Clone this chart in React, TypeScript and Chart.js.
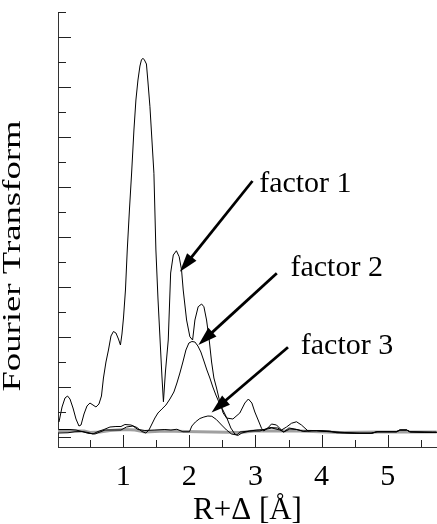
import { useEffect, useRef } from 'react';
import { Chart, registerables } from 'chart.js';

Chart.register(...registerables);

const SERIF = "'Liberation Serif', 'Times New Roman', Times, serif";

// Fourier-transform magnitude of each factor versus R+Δ (Å)
const factor1R = [0.03, 0.076, 0.121, 0.159, 0.196, 0.242, 0.287, 0.332, 0.363, 0.408, 0.453, 0.498, 0.544, 0.589, 0.634, 0.672, 0.702, 0.74, 0.778, 0.816, 0.853, 0.891, 0.929, 0.959, 0.982, 1.005, 1.035, 1.062, 1.095, 1.128, 1.163, 1.193, 1.224, 1.254, 1.276, 1.299, 1.322, 1.352, 1.375, 1.405, 1.435, 1.465, 1.495, 1.526, 1.556, 1.586, 1.609, 1.639, 1.682, 1.718, 1.758, 1.805, 1.847, 1.883, 1.908, 1.959, 2.009, 2.05, 2.085, 2.134, 2.186, 2.221, 2.261, 2.301, 2.337, 2.372, 2.412, 2.462, 2.512, 2.563, 2.659, 2.764, 2.84, 2.893, 2.946, 2.991, 3.041, 3.092, 3.127, 3.187, 3.243, 3.319, 3.394, 3.47, 3.545, 3.621, 3.696, 3.796, 3.923, 4.124, 4.23, 4.502, 4.758, 4.834, 5.136, 5.181, 5.287, 5.332, 5.559, 5.74];
const factor1FT = [0.6, 1.2, 1.56, 1.64, 1.52, 1.16, 0.72, 0.44, 0.48, 0.92, 1.24, 1.36, 1.28, 1.2, 1.32, 1.64, 2.36, 3.0, 3.48, 4.04, 4.22, 4.16, 3.92, 3.68, 4.12, 4.76, 5.88, 7.48, 9.08, 10.56, 12.28, 13.48, 14.28, 14.84, 15.08, 15.15, 15.08, 14.92, 14.2, 13.21, 11.88, 10.55, 7.48, 5.56, 4.0, 2.44, 1.41, 2.6, 3.88, 6.56, 7.28, 7.45, 7.21, 6.68, 5.88, 4.68, 4.01, 3.88, 4.68, 5.21, 5.32, 5.21, 4.68, 3.88, 3.0, 2.36, 1.96, 1.4, 0.96, 0.76, 0.72, 0.96, 1.36, 1.52, 1.36, 1.0, 0.68, 0.35, 0.24, 0.36, 0.52, 0.48, 0.28, 0.4, 0.55, 0.61, 0.48, 0.24, 0.26, 0.24, 0.17, 0.15, 0.15, 0.21, 0.21, 0.28, 0.28, 0.21, 0.18, 0.18];

const factor2R = [0.023, 0.196, 0.287, 0.378, 0.468, 0.544, 0.619, 0.71, 0.801, 0.891, 0.967, 1.027, 1.118, 1.208, 1.284, 1.344, 1.39, 1.435, 1.48, 1.526, 1.586, 1.647, 1.707, 1.767, 1.813, 1.858, 1.903, 1.949, 1.994, 2.039, 2.085, 2.13, 2.175, 2.221, 2.266, 2.311, 2.356, 2.402, 2.447, 2.508, 2.568, 2.628, 2.689, 2.734, 2.795, 2.915, 3.021, 3.142, 3.248, 3.369, 3.429, 3.52, 3.625, 3.731, 3.852, 4.124, 4.35, 4.577, 4.758, 4.849, 5.121, 5.196, 5.287, 5.347, 5.74];
const factor2FT = [0.3, 0.3, 0.28, 0.22, 0.18, 0.12, 0.22, 0.3, 0.4, 0.42, 0.42, 0.5, 0.48, 0.38, 0.22, 0.16, 0.28, 0.52, 0.76, 0.96, 1.12, 1.28, 1.52, 1.8, 2.16, 2.56, 3.0, 3.48, 3.76, 3.82, 3.8, 3.64, 3.4, 3.04, 2.68, 2.36, 2.0, 1.68, 1.4, 1.08, 0.76, 0.36, 0.12, 0.06, 0.16, 0.24, 0.28, 0.3, 0.36, 0.28, 0.2, 0.32, 0.3, 0.22, 0.26, 0.22, 0.18, 0.15, 0.15, 0.21, 0.21, 0.28, 0.28, 0.2, 0.18];

const factor3R = [0.023, 0.166, 0.272, 0.378, 0.468, 0.574, 0.65, 0.725, 0.876, 0.967, 1.05, 1.148, 1.224, 1.329, 1.48, 1.631, 1.722, 1.813, 1.903, 2.002, 2.039, 2.092, 2.16, 2.221, 2.281, 2.341, 2.409, 2.488, 2.563, 2.639, 2.719, 2.764, 2.915, 3.066, 3.218, 3.338, 3.429, 3.505, 3.595, 3.716, 3.927, 4.124, 4.32, 4.532, 4.743, 4.834, 5.136, 5.181, 5.287, 5.332, 5.68, 5.74];
const factor3FT = [0.16, 0.17, 0.21, 0.22, 0.15, 0.12, 0.2, 0.28, 0.28, 0.28, 0.4, 0.44, 0.3, 0.26, 0.28, 0.3, 0.28, 0.31, 0.21, 0.21, 0.44, 0.6, 0.74, 0.8, 0.84, 0.83, 0.7, 0.48, 0.28, 0.12, 0.08, 0.2, 0.24, 0.24, 0.38, 0.36, 0.2, 0.36, 0.32, 0.24, 0.25, 0.21, 0.17, 0.15, 0.15, 0.21, 0.21, 0.28, 0.28, 0.21, 0.2, 0.2];

// grey residual trace along the baseline
const residualR = [0.015, 0.408, 0.498, 0.65, 0.801, 1.027, 1.178, 1.329, 1.631, 1.934, 2.764, 2.991, 3.67, 4.275, 4.879, 5.74];
const residualFT = [0.24, 0.24, 0.18, 0.2, 0.26, 0.3, 0.28, 0.2, 0.24, 0.22, 0.18, 0.24, 0.24, 0.18, 0.2, 0.2];

const xLabelled = [1, 2, 3, 4, 5];

// call-out labels and arrows, in data coordinates (R, FT)
const calloutText = ['factor 1', 'factor 2', 'factor 3'];
const calloutTextR = [3.056, 3.53, 3.686];
const calloutTextFT = [9.81, 6.44, 3.32];
const arrowFromR = [2.955, 3.323, 3.492];
const arrowFromFT = [10.24, 6.55, 3.59];
const arrowToR = [1.858, 2.137, 2.337];
const arrowToFT = [6.61, 3.68, 0.98];

const X_MIN = 0.015;
const X_MAX = 5.745;
const Y_MIN = -0.4;
const Y_MAX = 17;

const pts = (xs: number[], ys: number[]) => xs.map((x, i) => ({ x, y: ys[i] }));

function drawArrow(ctx: CanvasRenderingContext2D, x1: number, y1: number, x2: number, y2: number) {
  const ang = Math.atan2(y2 - y1, x2 - x1);
  const headLen = 19;
  const headHalf = 6;
  const c = Math.cos(ang);
  const s = Math.sin(ang);
  const bx = x2 - headLen * c;
  const by = y2 - headLen * s;
  ctx.beginPath();
  ctx.moveTo(x1, y1);
  ctx.lineTo(bx + c, by + s);
  ctx.lineWidth = 2.8;
  ctx.strokeStyle = '#000';
  ctx.stroke();
  ctx.beginPath();
  ctx.moveTo(x2, y2);
  ctx.lineTo(bx + headHalf * s, by - headHalf * c);
  ctx.lineTo(bx - headHalf * s, by + headHalf * c);
  ctx.closePath();
  ctx.fillStyle = '#000';
  ctx.fill();
}

const decorPlugin = {
  id: 'ftDecor',
  afterDatasetsDraw(chart: any) {
    const { ctx, chartArea, scales } = chart;
    const xs = scales.x;
    const ys = scales.y;
    ctx.save();
    ctx.strokeStyle = '#222';
    ctx.lineWidth = 1;
    // inward tick marks on the R axis
    for (let v = 0.5; v < X_MAX; v += 0.5) {
      const major = Math.abs(v - Math.round(v)) < 1e-6;
      const px = Math.round(xs.getPixelForValue(v)) + 0.5;
      const len = major ? 12 : 7;
      ctx.beginPath();
      ctx.moveTo(px, chartArea.bottom);
      ctx.lineTo(px, chartArea.bottom - len);
      ctx.stroke();
    }
    // inward tick marks on the FT axis
    for (let v = 0; v <= Y_MAX; v += 1) {
      const major = v % 2 === 0;
      const py = Math.round(ys.getPixelForValue(v)) + 0.5;
      const len = major ? 13 : 8;
      ctx.beginPath();
      ctx.moveTo(chartArea.left, py);
      ctx.lineTo(chartArea.left + len, py);
      ctx.stroke();
    }
    // call-outs
    ctx.font = `30px ${SERIF}`;
    ctx.textAlign = 'left';
    ctx.textBaseline = 'alphabetic';
    ctx.fillStyle = '#000';
    calloutText.forEach((t, i) => {
      ctx.fillText(t, xs.getPixelForValue(calloutTextR[i]), ys.getPixelForValue(calloutTextFT[i]));
      drawArrow(
        ctx,
        xs.getPixelForValue(arrowFromR[i]),
        ys.getPixelForValue(arrowFromFT[i]),
        xs.getPixelForValue(arrowToR[i]),
        ys.getPixelForValue(arrowToFT[i])
      );
    });
    // vertical axis title, drawn stretched along its length
    ctx.font = `24.5px ${SERIF}`;
    ctx.textAlign = 'center';
    ctx.translate(chartArea.left - 38, 256);
    ctx.rotate(-Math.PI / 2);
    ctx.scale(1.5, 1);
    ctx.fillText('Fourier Transform', 0, 0);
    ctx.restore();
  },
};

export default function App() {
  const canvasRef = useRef<HTMLCanvasElement | null>(null);

  useEffect(() => {
    const canvas = canvasRef.current;
    if (!canvas) return;
    const line = (label: string, data: { x: number; y: number }[], color: string, width: number) => ({
      label,
      data,
      borderColor: color,
      backgroundColor: color,
      borderWidth: width,
      pointRadius: 0,
      tension: 0,
      fill: false,
    });
    const chart = new Chart(canvas, {
      type: 'line',
      data: {
        datasets: [
          line('factor 1', pts(factor1R, factor1FT), '#000', 1),
          line('factor 2', pts(factor2R, factor2FT), '#000', 1),
          line('factor 3', pts(factor3R, factor3FT), '#000', 1),
          line('residual', pts(residualR, residualFT), '#a0a0a0', 3),
        ],
      },
      options: {
        responsive: false,
        animation: false,
        events: [],
        layout: { padding: { top: 12, left: 0, right: 0, bottom: 0 }, autoPadding: false },
        plugins: { legend: { display: false }, tooltip: { enabled: false } },
        scales: {
          x: {
            type: 'linear',
            min: X_MIN,
            max: X_MAX,
            grid: { display: false },
            border: { display: true, color: '#333', width: 1 },
            ticks: {
              stepSize: 0.5,
              includeBounds: false,
              autoSkip: false,
              maxRotation: 0,
              padding: 4,
              color: '#000',
              font: { family: SERIF, size: 30 },
              callback: (v: any) => (xLabelled.includes(Number(v)) ? String(v) : ''),
            },
            title: {
              display: true,
              text: 'R+Δ [Å]',
              color: '#000',
              font: { family: SERIF, size: 31, lineHeight: 1 },
              padding: { top: 0, bottom: -2 },
            },
            afterFit: (s: any) => {
              s.height = 77;
            },
          },
          y: {
            type: 'linear',
            min: Y_MIN,
            max: Y_MAX,
            grid: { display: false },
            border: { display: true, color: '#333', width: 1 },
            ticks: { display: false, stepSize: 1 },
            afterFit: (s: any) => {
              s.width = 58;
            },
          },
        },
      },
      plugins: [decorPlugin],
    });
    return () => chart.destroy();
  }, []);

  return (
    <div style={{ position: 'absolute', left: 0, top: 0, width: 437, height: 524, background: '#fff' }}>
      <canvas ref={canvasRef} width={437} height={524} style={{ display: 'block' }} />
    </div>
  );
}
